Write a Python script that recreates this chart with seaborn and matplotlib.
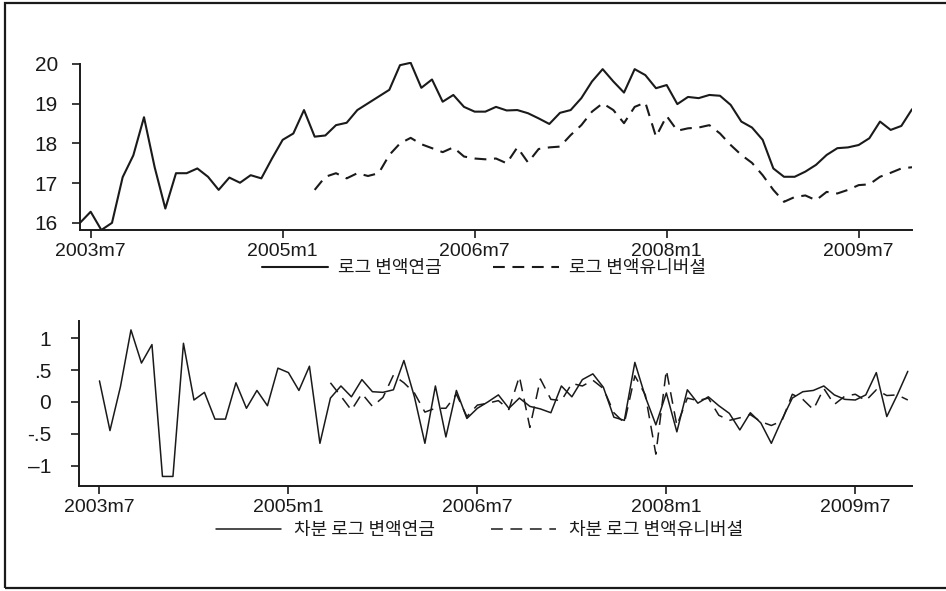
import numpy as np
import pandas as pd
import seaborn as sns
import matplotlib.pyplot as plt
from matplotlib.patches import Rectangle

# =========================================================
# DATA (monthly)
# =========================================================
LEVEL_START = "2003-06"
DIFF_START = "2003-07"
DASH_LEVEL_START = "2005-04"
DASH_DIFF_START = "2005-05"

log_annuity = [
    16.0, 16.28, 15.82, 16.0, 17.15, 17.7, 18.66, 17.4, 16.36, 17.25,
    17.25, 17.37, 17.16, 16.83, 17.14, 17.01, 17.2, 17.12, 17.62, 18.09,
    18.25, 18.84, 18.17, 18.2, 18.46, 18.52, 18.84, 19.01, 19.18, 19.35,
    19.97, 20.03, 19.4, 19.61, 19.05, 19.22, 18.92, 18.8, 18.8, 18.92,
    18.83, 18.84, 18.76, 18.63, 18.49, 18.77, 18.84, 19.14, 19.56, 19.87,
    19.56, 19.28, 19.87, 19.72, 19.39, 19.47, 18.99, 19.17, 19.14, 19.22,
    19.2, 18.97, 18.55, 18.4, 18.09, 17.37, 17.16, 17.16, 17.29, 17.46,
    17.71, 17.88, 17.9, 17.96, 18.13, 18.55, 18.34, 18.44, 18.86,
]

log_universal = [
    16.83, 17.16, 17.25, 17.12, 17.25, 17.18, 17.25, 17.71, 18.0, 18.14,
    17.98, 17.88, 17.78, 17.9, 17.67, 17.62, 17.6, 17.62, 17.5, 17.9,
    17.52, 17.86, 17.9, 17.92, 18.21, 18.46, 18.8, 19.01, 18.84, 18.51,
    18.92, 19.03, 18.17, 18.69, 18.32, 18.38, 18.4, 18.46, 18.25, 17.96,
    17.71, 17.51, 17.2, 16.83, 16.53, 16.65, 16.69, 16.57, 16.78, 16.74,
    16.83, 16.95, 16.97, 17.16, 17.26, 17.37, 17.4,
]

diff_annuity = [
    0.33, -0.45, 0.24, 1.13, 0.61, 0.9, -1.17, -1.17, 0.92, 0.03,
    0.15, -0.27, -0.27, 0.3, -0.1, 0.18, -0.06, 0.53, 0.46, 0.18,
    0.56, -0.65, 0.06, 0.25, 0.08, 0.35, 0.16, 0.15, 0.19, 0.65,
    0.08, -0.65, 0.25, -0.55, 0.18, -0.26, -0.1, 0.0, 0.11, -0.1,
    0.06, -0.07, -0.11, -0.17, 0.25, 0.08, 0.35, 0.44, 0.23, -0.24,
    -0.29, 0.62, 0.08, -0.36, 0.14, -0.47, 0.19, -0.02, 0.08, -0.06,
    -0.18, -0.44, -0.17, -0.33, -0.65, -0.28, 0.06, 0.16, 0.18, 0.25,
    0.11, 0.04, 0.03, 0.11, 0.46, -0.23, 0.11, 0.48,
]

diff_universal = [
    0.3, 0.09, -0.13, 0.13, -0.07, 0.07, 0.42, 0.3, 0.14, -0.16,
    -0.1, -0.1, 0.12, -0.23, -0.05, -0.02, 0.02, -0.12, 0.4, -0.4,
    0.36, 0.04, 0.02, 0.29, 0.25, 0.34, 0.21, -0.17, -0.33, 0.41,
    0.11, -0.82, 0.5, -0.37, 0.06, 0.02, 0.06, -0.21, -0.29, -0.25,
    -0.2, -0.31, -0.37, -0.3, 0.12, 0.04, -0.12, 0.21, -0.04, 0.09,
    0.12, 0.02, 0.19, 0.1, 0.11, 0.03,
]

X_TICK_LABELS = ["2003m7", "2005m1", "2006m7", "2008m1", "2009m7"]
TOP_Y_TICKS = [16, 17, 18, 19, 20]
BOT_Y_TICKS = [-1, -0.5, 0, 0.5, 1]
BOT_Y_LABELS = ["\u20131", "-.5", "0", ".5", "1"]

TOP_LABELS = ["로그 변액연금", "로그 변액유니버셜"]
BOT_LABELS = ["차분 로그 변액연금", "차분 로그 변액유니버셜"]

# =========================================================
# PREP
# =========================================================
BASE = pd.Period("2003-07", freq="M")


def month_pos(start, n):
    p0 = pd.Period(start, freq="M")
    return np.arange(n) + (p0 - BASE).n


def tick_pos(label):
    y, m = label.split("m")
    return (pd.Period(f"{y}-{int(m):02d}", freq="M") - BASE).n


top_df = pd.concat([
    pd.DataFrame({"t": month_pos(LEVEL_START, len(log_annuity)),
                  "v": log_annuity, "s": TOP_LABELS[0]}),
    pd.DataFrame({"t": month_pos(DASH_LEVEL_START, len(log_universal)),
                  "v": log_universal, "s": TOP_LABELS[1]}),
])
bot_df = pd.concat([
    pd.DataFrame({"t": month_pos(DIFF_START, len(diff_annuity)),
                  "v": diff_annuity, "s": BOT_LABELS[0]}),
    pd.DataFrame({"t": month_pos(DASH_DIFF_START, len(diff_universal)),
                  "v": diff_universal, "s": BOT_LABELS[1]}),
])

# =========================================================
# FIGURE
# =========================================================
sns.set_style("ticks")
plt.rcParams["font.family"] = ["Liberation Sans", "Noto Sans CJK KR", "DejaVu Sans"]
plt.rcParams["lines.scale_dashes"] = False

INK = "#1a1a1a"
DASH = (8.5, 5.5)

fig = plt.figure(figsize=(9.46, 5.91), dpi=100)
ax_top = fig.add_axes([80 / 946, 1 - 230 / 591, 832 / 946, 168 / 591])
ax_bot = fig.add_axes([79 / 946, 1 - 486 / 591, 833 / 946, 165 / 591])

sns.lineplot(data=top_df, x="t", y="v", style="s", style_order=TOP_LABELS,
             dashes={TOP_LABELS[0]: "", TOP_LABELS[1]: DASH},
             color=INK, lw=1.5, ax=ax_top, legend=False, sort=False)
sns.lineplot(data=bot_df, x="t", y="v", style="s", style_order=BOT_LABELS,
             dashes={BOT_LABELS[0]: "", BOT_LABELS[1]: DASH},
             color=INK, lw=1.1, ax=ax_bot, legend=False, sort=False)

xticks = [tick_pos(l) for l in X_TICK_LABELS]

for ax in (ax_top, ax_bot):
    ax.set_xticks(xticks)
    ax.set_xticklabels(X_TICK_LABELS, fontsize=14)
    ax.set_xlabel("")
    ax.set_ylabel("")
    sns.despine(ax=ax)
    for side in ("left", "bottom"):
        ax.spines[side].set_linewidth(1.4)
        ax.spines[side].set_color(INK)
    ax.tick_params(axis="x", length=6, width=1.2, color=INK, pad=3, labelcolor=INK)
    ax.tick_params(axis="y", length=6, width=1.2, color=INK, labelsize=15, labelcolor=INK)
    ax.set_facecolor("none")

ax_top.set_xlim(-1, 77)
ax_top.set_ylim(15.82, 20.05)
ax_top.spines["left"].set_bounds(15.82, 20)
ax_top.set_yticks(TOP_Y_TICKS)
ax_top.set_yticklabels([str(v) for v in TOP_Y_TICKS])
ax_top.tick_params(axis="y", pad=10)

ax_bot.set_xlim(-1.95, 77.4)
ax_bot.set_ylim(-1.32, 1.27)
ax_bot.set_yticks(BOT_Y_TICKS)
ax_bot.set_yticklabels(BOT_Y_LABELS)
ax_bot.tick_params(axis="y", pad=14)

# legends below each panel
leg_font = {"family": "Noto Sans CJK KR", "size": 13}
ax_top.legend(ax_top.get_lines()[:2], TOP_LABELS, ncol=2, frameon=False,
              prop=leg_font, handlelength=3.7, handletextpad=0.55,
              columnspacing=2.8, loc="center",
              bbox_to_anchor=(484 / 946, 1 - 268 / 591),
              bbox_transform=fig.transFigure, labelcolor=INK)
ax_bot.legend(ax_bot.get_lines()[:2], BOT_LABELS, ncol=2, frameon=False,
              prop=leg_font, handlelength=3.6, handletextpad=0.72,
              columnspacing=3.1, loc="center",
              bbox_to_anchor=(480 / 946, 1 - 530 / 591),
              bbox_transform=fig.transFigure, labelcolor=INK)

# outer frame (right edge runs off the canvas as in the reference)
fig.add_artist(Rectangle((4.5 / 946, 3 / 591), 1.2, 585 / 591,
                         transform=fig.transFigure, fill=False,
                         lw=1.6, ec=INK))

plt.savefig("out.png", dpi=100)
